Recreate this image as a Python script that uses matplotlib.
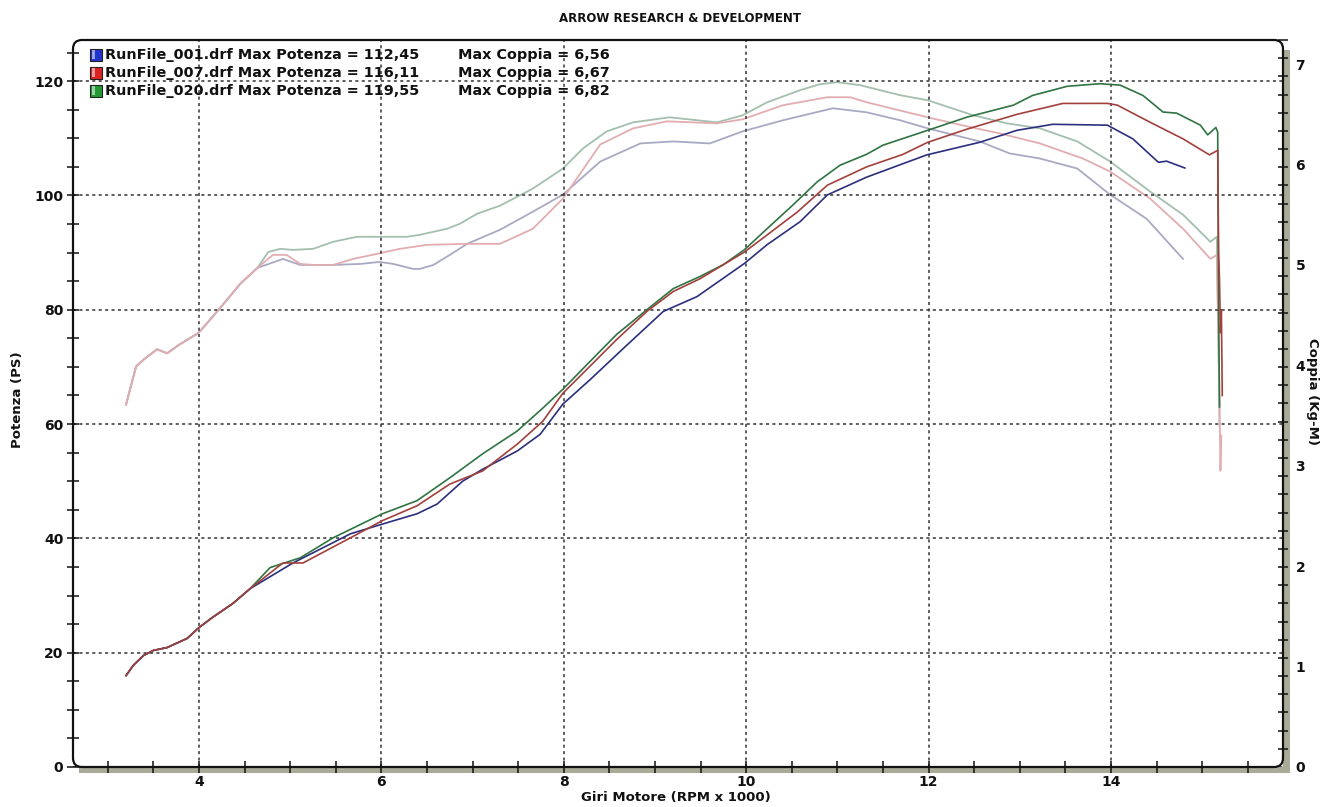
import matplotlib
matplotlib.use("Agg")
import matplotlib.pyplot as plt
import numpy as np
from matplotlib.patches import FancyBboxPatch, Rectangle
from matplotlib.transforms import IdentityTransform
from matplotlib.ticker import MultipleLocator, FixedLocator

# ---- data (rpm x 1000) ----
rpm_low = [3.20, 3.28, 3.39, 3.50, 3.65, 3.87, 4.00, 4.15, 4.37]
pow_low = [16.0, 17.8, 19.5, 20.4, 20.9, 22.5, 24.4, 26.2, 28.6]

rpm_p020 = [4.56, 4.78, 5.11, 5.47, 6.01, 6.39, 6.75, 7.11, 7.49, 7.77, 7.99, 8.21, 8.58,
            8.91, 9.20, 9.49, 9.75, 9.98, 10.23, 10.51, 10.78, 11.03, 11.32, 11.50, 11.99,
            12.42, 12.93, 13.14, 13.52, 13.88, 14.10, 14.35, 14.57, 14.72, 14.98, 15.06,
            15.15, 15.17, 15.18, 15.19]
pow_p020 = [31.2, 34.9, 36.6, 40.1, 44.3, 46.6, 50.6, 54.8, 58.8, 62.8, 66.1, 69.7, 75.7,
            80.0, 83.7, 85.8, 87.9, 90.5, 94.2, 98.3, 102.4, 105.3, 107.2, 108.8, 111.4,
            113.7, 115.8, 117.5, 119.1, 119.55, 119.3, 117.5, 114.6, 114.4, 112.3, 110.6,
            111.9, 111.1, 80.0, 63.0]

rpm_p007 = [4.56, 4.92, 5.14, 5.66, 6.01, 6.39, 6.75, 7.11, 7.49, 7.77, 7.99, 8.21, 8.58,
            8.91, 9.20, 9.49, 9.98, 10.23, 10.56, 10.89, 11.32, 11.72, 11.99, 12.42, 12.97,
            13.47, 13.96, 14.07, 14.43, 14.79, 15.08, 15.17, 15.18, 15.19, 15.20, 15.21, 15.22]
pow_p007 = [31.2, 35.7, 35.7, 40.1, 43.1, 45.7, 49.5, 51.8, 56.5, 60.5, 65.4, 68.9, 74.8,
            79.7, 83.2, 85.4, 90.1, 93.1, 97.1, 101.8, 105.0, 107.2, 109.3, 111.6, 114.2,
            116.1, 116.11, 115.8, 112.8, 109.9, 107.1, 107.9, 90.0, 85.0, 76.0, 80.0, 65.0]

rpm_p001 = [4.56, 5.03, 5.66, 6.01, 6.39, 6.61, 6.89, 7.11, 7.49, 7.74, 7.99, 8.29, 8.65,
            9.09, 9.46, 9.98, 10.23, 10.59, 10.89, 11.32, 11.98, 12.56, 12.97, 13.36, 13.96,
            14.24, 14.52, 14.61, 14.81]
pow_p001 = [31.2, 35.7, 40.8, 42.5, 44.3, 46.0, 50.0, 52.1, 55.3, 58.2, 63.5, 67.8, 73.2,
            79.7, 82.3, 88.1, 91.4, 95.4, 100.1, 103.2, 107.1, 109.3, 111.4, 112.45, 112.3,
            109.9, 105.8, 106.0, 104.8]

rpm_tlow = [3.20, 3.31, 3.41, 3.54, 3.65, 3.79, 3.99, 4.04, 4.23, 4.45, 4.64]
trq_low = [3.61, 3.99, 4.07, 4.16, 4.12, 4.21, 4.32, 4.37, 4.57, 4.81, 4.97]

rpm_t020 = [4.76, 4.89, 5.03, 5.25, 5.47, 5.73, 6.02, 6.28, 6.42, 6.72, 6.86, 7.05, 7.30,
            7.66, 7.99, 8.21, 8.47, 8.76, 9.16, 9.68, 9.96, 10.23, 10.59, 10.81, 11.00,
            11.25, 11.69, 11.99, 12.49, 12.86, 13.22, 13.63, 13.99, 14.43, 14.79, 15.09,
            15.16, 15.18, 15.19]
trq_t020 = [5.13, 5.16, 5.15, 5.16, 5.23, 5.28, 5.28, 5.28, 5.30, 5.36, 5.41, 5.51, 5.59,
            5.76, 5.96, 6.16, 6.33, 6.42, 6.47, 6.42, 6.49, 6.62, 6.74, 6.80, 6.82,
            6.79, 6.69, 6.64, 6.49, 6.41, 6.36, 6.23, 6.03, 5.73, 5.50, 5.23,
            5.28, 4.20, 3.40]

rpm_t007 = [4.81, 4.96, 5.11, 5.25, 5.47, 5.69, 5.95, 6.20, 6.50, 6.94, 7.30, 7.66, 7.99,
            8.40, 8.76, 9.13, 9.68, 9.96, 10.40, 10.89, 11.14, 11.32, 11.99, 12.42, 12.78,
            13.22, 13.69, 13.99, 14.43, 14.79, 15.09, 15.16, 15.19, 15.20, 15.21]
trq_t007 = [5.10, 5.10, 5.01, 5.00, 5.00, 5.06, 5.11, 5.16, 5.20, 5.21, 5.21, 5.36, 5.66,
            6.20, 6.36, 6.43, 6.41, 6.45, 6.59, 6.67, 6.67, 6.62, 6.47, 6.38, 6.31,
            6.21, 6.06, 5.93, 5.66, 5.36, 5.06, 5.10, 3.60, 2.95, 3.30]

rpm_t001 = [4.92, 5.11, 5.47, 5.77, 5.98, 6.13, 6.35, 6.42, 6.57, 6.75, 6.94, 7.30, 7.66,
            7.99, 8.40, 8.84, 9.20, 9.60, 9.96, 10.40, 10.95, 11.32, 11.69, 11.99, 12.56,
            12.89, 13.22, 13.63, 13.99, 14.39, 14.79]
trq_t001 = [5.06, 5.00, 5.00, 5.01, 5.03, 5.01, 4.96, 4.96, 5.00, 5.10, 5.21, 5.35, 5.53,
            5.70, 6.03, 6.21, 6.23, 6.21, 6.33, 6.44, 6.56, 6.52, 6.44, 6.36, 6.23,
            6.11, 6.06, 5.96, 5.70, 5.46, 5.06]

runs = ["RunFile_001.drf", "RunFile_007.drf", "RunFile_020.drf"]
max_pow = ["112,45", "116,11", "119,55"]
max_trq = ["6,56", "6,67", "6,82"]

# ---- styling ----
c_pow = {"001": "#2b2f7e", "007": "#a2403c", "020": "#2f7442"}
c_trq = {"001": "#a9a9c4", "007": "#e2adb0", "020": "#a3bfae"}
c_box = ["#2233cc", "#dd2222", "#229933"]

W, H = 1325, 807
fig = plt.figure(figsize=(W / 100, H / 100), dpi=100)
x0, x1, y0, y1 = 73, 1283, 40, 767
ax = fig.add_axes([x0 / W, 1 - y1 / H, (x1 - x0) / W, (y1 - y0) / H])
ax2 = ax.twinx()

def seg(lo_x, lo_y, xs, ys):
    return np.array(lo_x + xs), np.array(lo_y + ys)

# red drawn last so the shared low-rpm part looks reddish, as on the sheet
for key, xs, ys in [("020", rpm_t020, trq_t020), ("001", rpm_t001, trq_t001), ("007", rpm_t007, trq_t007)]:
    rx, ry = seg(rpm_tlow, trq_low, xs, ys)
    ax2.plot(rx, ry, color=c_trq[key], lw=1.3)

for key, xs, ys in [("020", rpm_p020, pow_p020), ("001", rpm_p001, pow_p001), ("007", rpm_p007, pow_p007)]:
    rx, ry = seg(rpm_low, pow_low, xs, ys)
    ax.plot(rx, ry, color=c_pow[key], lw=1.2)

ax.set_zorder(ax2.get_zorder() + 1)
ax.patch.set_visible(False)

ax.set_xlim(2.618, 15.886)
ax.set_ylim(0, 127.2)
ax2.set_ylim(0, 7.24)

ax.xaxis.set_major_locator(FixedLocator([4, 6, 8, 10, 12, 14]))
ax.xaxis.set_minor_locator(MultipleLocator(0.5))
ax.yaxis.set_major_locator(MultipleLocator(20))
ax.yaxis.set_minor_locator(MultipleLocator(5))
ax2.yaxis.set_major_locator(FixedLocator([0, 1, 2, 3, 4, 5, 6, 7]))
ax2.yaxis.set_minor_locator(FixedLocator(np.linspace(0, 7.24, 41)))

ax.grid(True, which="major", color="#333333", ls=(0, (2, 2.2)), lw=1.1)

for s in list(ax.spines.values()) + list(ax2.spines.values()):
    s.set_visible(False)

ax.tick_params(axis="both", which="both", direction="inout", length=8, width=1.1, color="#111111")
ax.tick_params(axis="x", which="major", pad=2)
ax.tick_params(axis="y", which="major", pad=3)
ax2.tick_params(axis="y", which="major", length=0, pad=9)
ax2.tick_params(axis="y", which="minor", direction="inout", length=7, width=1.1, color="#111111")
for lab in ax.get_xticklabels() + ax.get_yticklabels() + ax2.get_yticklabels():
    lab.set_fontsize(10)
    lab.set_fontweight("bold")
    lab.set_color("#111111")

# frame with shadow
fig.add_artist(Rectangle((x0 + 6, H - y1 - 6), x1 - x0, 6, transform=IdentityTransform(),
                         facecolor="#a9aa98", edgecolor="none", zorder=0))
fig.add_artist(Rectangle((x1, H - y1 - 6), 7, y1 - y0 - 4, transform=IdentityTransform(),
                         facecolor="#a9aa98", edgecolor="none", zorder=0))
fig.add_artist(FancyBboxPatch((x0, H - y1), x1 - x0, y1 - y0, transform=IdentityTransform(),
                              boxstyle="round,pad=0,rounding_size=9", fill=False,
                              edgecolor="#111111", lw=1.6, zorder=5))

# titles and labels
fig.text(680 / W, 1 - 18 / H, "ARROW RESEARCH & DEVELOPMENT", ha="center", va="center",
         fontsize=8.5, fontweight="bold", color="#111111")
fig.text(676 / W, 1 - 798 / H, "Giri Motore (RPM x 1000)", ha="center", va="center",
         fontsize=9.5, fontweight="bold", color="#111111")
fig.text(18 / W, 1 - 400 / H, "Potenza (PS)", ha="center", va="center", rotation=90,
         fontsize=9.5, fontweight="bold", color="#111111")
fig.text(1313 / W, 1 - 392 / H, "Coppia (Kg-M)", ha="center", va="center", rotation=270,
         fontsize=9.5, fontweight="bold", color="#111111")

# legend
for i in range(3):
    yc = 55 + i * 18
    fig.add_artist(Rectangle((90, H - yc - 6), 12, 12, transform=IdentityTransform(),
                             facecolor=c_box[i], edgecolor="#222222", lw=0.8, zorder=6))
    fig.add_artist(Rectangle((92, H - yc - 4), 3, 9, transform=IdentityTransform(),
                             facecolor="white", alpha=0.55, edgecolor="none", zorder=7))
    fig.text(105 / W, 1 - yc / H, f"{runs[i]} Max Potenza = {max_pow[i]}", ha="left",
             va="center", fontsize=10.4, fontweight="bold", color="#111111")
    fig.text(458 / W, 1 - yc / H, f"Max Coppia = {max_trq[i]}", ha="left",
             va="center", fontsize=10.4, fontweight="bold", color="#111111")

fig.savefig("out.png", dpi=100)
